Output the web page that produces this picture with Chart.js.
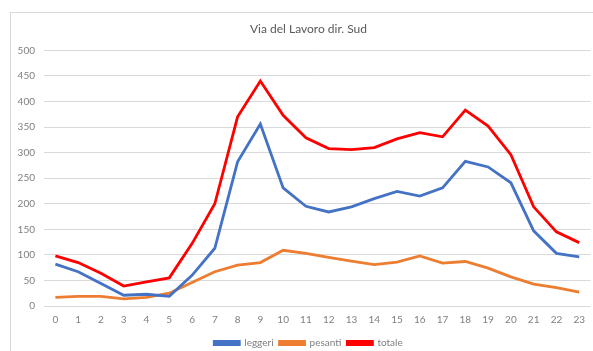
<!DOCTYPE html>
<html>
<head>
<meta charset="utf-8">
<script src="https://cdn.jsdelivr.net/npm/chart.js@4.4.1/dist/chart.umd.min.js"></script>
<style>
  html, body { margin: 0; padding: 0; background: #ffffff; overflow: hidden; }
  body { width: 593px; height: 351px; position: relative; }
  #frame {
    position: absolute; left: 10px; top: 12px;
    width: 620px; height: 360px;
    border: 1px solid #d9d9d9; box-sizing: border-box;
  }
  #wrap { position: absolute; left: 0; top: 0; width: 593px; height: 358px; }
</style>
</head>
<body>
<div id="frame"></div>
<div id="wrap"><canvas id="chart"></canvas></div>
<script>
// Hourly traffic counts, Via del Lavoro southbound
const hours = ['0','1','2','3','4','5','6','7','8','9','10','11','12','13','14','15','16','17','18','19','20','21','22','23'];
const leggeri = [82, 67, 44, 21, 23, 19, 60, 113, 282, 356, 231, 195, 184, 194, 210, 224, 215, 231, 283, 272, 241, 147, 103, 96];
const pesanti = [17, 19, 19, 14, 17, 25, 46, 67, 80, 85, 109, 103, 95, 88, 81, 86, 98, 84, 87, 74, 57, 43, 36, 27];
const totale = [98, 85, 64, 39, 47, 55, 122, 200, 370, 440, 373, 329, 308, 306, 310, 327, 339, 331, 383, 352, 296, 194, 145, 124];
const yTicks = [0, 50, 100, 150, 200, 250, 300, 350, 400, 450, 500];

const FONT = 'Lato, "Open Sans", sans-serif';

const line = (label, data, color) => ({
  label, data,
  borderColor: color,
  backgroundColor: color,
  borderWidth: 2.8,
  pointRadius: 0,
  pointHoverRadius: 0,
  tension: 0,
  fill: false
});

// Title and legend are centred on the full frame, which continues past the right edge
const frameCentering = {
  id: 'frameCentering',
  afterLayout(chart) {
    const shift = 24;
    if (chart.titleBlock) chart.titleBlock.left = shift;
    if (chart.legend) chart.legend.left = shift;
  }
};

new Chart(document.getElementById('chart'), {
  type: 'line',
  data: {
    labels: hours,
    datasets: [
      line('leggeri', leggeri, '#4472c4'),
      line('pesanti', pesanti, '#ed7d31'),
      line('totale', totale, '#ff0000')
    ]
  },
  plugins: [frameCentering],
  options: {
    responsive: true,
    maintainAspectRatio: false,
    animation: false,
    layout: { padding: 0 },
    plugins: {
      title: {
        display: true,
        text: 'Via del Lavoro dir. Sud',
        color: '#595959',
        font: { family: FONT, size: 12, weight: 'normal' },
        padding: { top: 22, bottom: 14 }
      },
      legend: {
        position: 'bottom',
        labels: {
          color: '#7f7f7f',
          font: { family: FONT, size: 10 },
          boxWidth: 25,
          boxHeight: 3,
          padding: 6
        }
      },
      tooltip: { enabled: false }
    },
    scales: {
      x: {
        offset: true,
        grid: { display: false, drawTicks: false },
        border: { display: false },
        ticks: {
          color: '#7f7f7f',
          font: { family: FONT, size: 10 },
          padding: 8,
          maxRotation: 0,
          autoSkip: false
        },
        afterFit: (s) => { s.height = 26; }
      },
      y: {
        min: 0,
        max: 500,
        afterBuildTicks: (s) => { s.ticks = yTicks.map(v => ({ value: v })); },
        grid: { color: '#d9d9d9', lineWidth: 1, drawTicks: false },
        border: { display: false },
        ticks: {
          color: '#7f7f7f',
          font: { family: FONT, size: 10 },
          padding: 9
        },
        afterFit: (s) => { s.width = 44; }
      }
    }
  }
});
</script>
</body>
</html>
